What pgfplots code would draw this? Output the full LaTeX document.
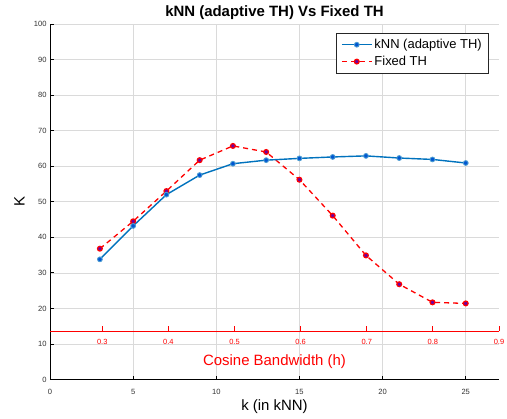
\documentclass[border=0pt]{standalone}
\usepackage{fontspec}
\setmainfont{Liberation Sans}
\usepackage{pgfplots}
\pgfplotsset{compat=1.18}
\definecolor{knnblue}{RGB}{0,114,189}
\definecolor{knnfill}{RGB}{0,85,210}
\definecolor{fixred}{RGB}{255,0,0}
\definecolor{fixfill}{RGB}{110,0,160}
\definecolor{gridgray}{RGB}{218,218,218}
\definecolor{ticktext}{RGB}{50,50,50}

\begin{document}
\begin{tikzpicture}
\path[use as bounding box] (-50bp,-39.5bp) rectangle (457bp,379.5bp);

% main axis: K against k
\begin{axis}[
  at={(0,0)}, anchor=south west,
  scale only axis, width=449bp, height=355.5bp,
  xmin=0, xmax=27, ymin=0, ymax=100,
  xtick={0,5,10,15,20,25}, ytick={0,10,...,100},
  axis x line=bottom, axis y line=left,
  axis line style={-, black, line width=0.9bp},
  tick align=inside, major tick length=4bp,
  tick style={black, line width=0.8bp},
  grid=major, grid style={gridgray, line width=0.6bp},
  /pgf/number format/assume math mode=true,
  tick label style={font=\fontsize{7.6}{9}\selectfont, text=ticktext},
  xticklabel style={anchor=base, yshift=-14.5bp},
  title={kNN (adaptive TH) Vs Fixed TH},
  title style={font=\bfseries\fontsize{15}{17}\selectfont,
    at={(axis description cs:0.5,1)}, anchor=base, yshift=2bp},
  xlabel={k (in kNN)},
  xlabel style={font=\fontsize{15}{17}\selectfont,
    at={(axis description cs:0.5,0)}, anchor=base, yshift=-31bp},
  ylabel={K},
  ylabel style={font=\fontsize{15}{17}\selectfont,
    at={(axis description cs:-0.068,0.5)}, anchor=center},
  legend style={font=\fontsize{13}{15}\selectfont,
    at={(axis description cs:1,1)}, anchor=north east,
    xshift=-10bp, yshift=-9bp, draw=black!85, line width=0.6bp,
    fill=white, inner xsep=5bp, inner ysep=4bp, row sep=2bp},
  legend cell align=left,
  legend image code/.code={
    \draw[mark repeat=2, mark phase=2, #1]
      plot coordinates {(0bp,0bp) (15bp,0bp) (30bp,0bp)};},
  reverse legend,
]
\addplot[color=fixred, line width=1.3bp, dash pattern=on 5bp off 4bp,
  mark=*, mark size=2.4bp,
  mark options={solid, draw=fixred, fill=fixfill, line width=1.2bp}]
  coordinates {
  (3,36.8) (5,44.5) (7,53.0) (9,61.7) (11,65.7) (13,64.0)
  (15,56.2) (17,46.1) (19,34.9) (21,26.8) (23,21.7) (25,21.4)
};
\addlegendentry{Fixed TH}

\addplot[color=knnblue, line width=1.4bp,
  mark=*, mark size=2.4bp,
  mark options={solid, draw=knnblue!70, fill=knnfill, line width=0.9bp}]
  coordinates {
  (3,33.8) (5,43.2) (7,52.0) (9,57.5) (11,60.7) (13,61.7)
  (15,62.2) (17,62.6) (19,62.9) (21,62.3) (23,61.9) (25,60.9)
};
\addlegendentry{kNN (adaptive TH)}
\end{axis}

% second x axis for the bandwidth h
\begin{axis}[
  at={(0,48bp)}, anchor=south west,
  scale only axis, width=449bp, height=50bp,
  xmin=0.221, xmax=0.9, ymin=0, ymax=1,
  axis x line=bottom, hide y axis,
  axis line style={-, fixred, line width=0.9bp},
  xtick={0.3,0.4,0.5,0.6,0.7,0.8,0.9},
  tick align=inside, major tick length=5.5bp,
  tick style={fixred, line width=0.8bp},
  /pgf/number format/assume math mode=true,
  xticklabel style={font=\fontsize{7.5}{9}\selectfont, text=fixred,
    anchor=base, yshift=-13bp},
  xlabel={Cosine Bandwidth (h)},
  xlabel style={font=\fontsize{15}{17}\selectfont, text=fixred,
    at={(axis description cs:0.5,0)}, anchor=base, yshift=-34bp},
]
\end{axis}
\end{tikzpicture}
\end{document}
